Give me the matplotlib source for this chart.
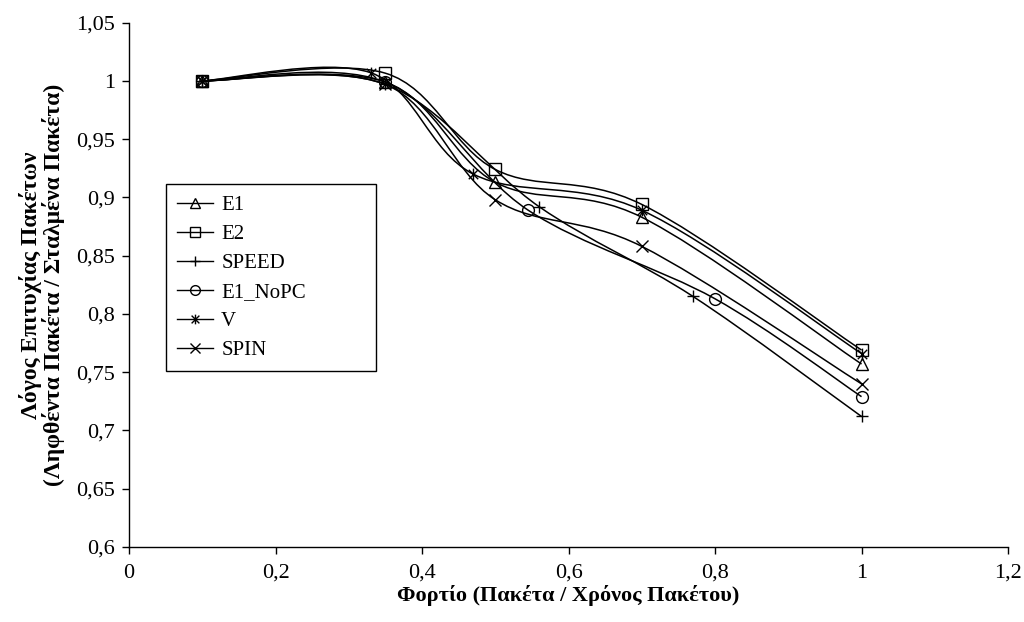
import matplotlib
matplotlib.use("Agg")
import matplotlib.pyplot as plt
from matplotlib.path import Path
from matplotlib.patches import PathPatch
from matplotlib.lines import Line2D
import numpy as np

plt.rcParams['font.family'] = ['Liberation Serif', 'DejaVu Serif']

# ---- data ----
series_names = ["E1", "E2", "SPEED", "E1_NoPC", "V", "SPIN"]
e1_x = [0.10, 0.35, 0.50, 0.70, 1.00]
e1_y = [1.000, 0.999, 0.913, 0.883, 0.757]
e2_x = [0.10, 0.35, 0.50, 0.70, 1.00]
e2_y = [1.000, 1.0066, 0.924, 0.894, 0.769]
speed_x = [0.10, 0.35, 0.56, 0.77, 1.00]
speed_y = [1.000, 0.997, 0.892, 0.815, 0.712]
nopc_x = [0.10, 0.35, 0.545, 0.80, 1.00]
nopc_y = [1.000, 0.999, 0.889, 0.813, 0.729]
v_x = [0.10, 0.33, 0.47, 0.70, 1.00]
v_y = [1.000, 1.007, 0.920, 0.889, 0.766]
spin_x = [0.10, 0.35, 0.50, 0.70, 1.00]
spin_y = [1.000, 0.997, 0.898, 0.858, 0.740]

x_ticks = [0, 0.2, 0.4, 0.6, 0.8, 1.0, 1.2]
x_tick_labels = ["0", "0,2", "0,4", "0,6", "0,8", "1", "1,2"]
y_ticks = [0.6, 0.65, 0.7, 0.75, 0.8, 0.85, 0.9, 0.95, 1.0, 1.05]
y_tick_labels = ["0,6", "0,65", "0,7", "0,75", "0,8", "0,85", "0,9", "0,95", "1", "1,05"]

x_label = "Φορτίο (Πακέτα / Χρόνος Πακέτου)"
y_label = "Λόγος Επιτυχίας Πακέτων\n(Ληφθέντα Πακέτα / Σταλμένα Πακέτα)"

# asterisk marker (vertical bar + X) like the spreadsheet "star"
star = Path([(-1, -1), (1, 1), (-1, 1), (1, -1), (0, -1.25), (0, 1.25)],
            [Path.MOVETO, Path.LINETO, Path.MOVETO, Path.LINETO, Path.MOVETO, Path.LINETO])

markers = ['^', 's', '+', 'o', star, 'x']
series = [(e1_x, e1_y), (e2_x, e2_y), (speed_x, speed_y),
          (nopc_x, nopc_y), (v_x, v_y), (spin_x, spin_y)]


def smooth_path(xs, ys):
    """Spreadsheet-style smoothed line: cubic Bezier through the points."""
    p = np.column_stack([xs, ys]).astype(float)
    n = len(p)
    verts = [p[0]]
    codes = [Path.MOVETO]
    for i in range(n - 1):
        p0 = p[i - 1] if i > 0 else p[i]
        p1 = p[i]
        p2 = p[i + 1]
        p3 = p[i + 2] if i + 2 < n else p[i + 1]
        c1 = p1 + (p2 - p0) / 6.0
        c2 = p2 - (p3 - p1) / 6.0
        verts += [c1, c2, p2]
        codes += [Path.CURVE4] * 3
    return Path(verts, codes)


fig = plt.figure(figsize=(10.24, 6.22), dpi=100)
ax = fig.add_axes([0.126, 0.1206, 0.8584, 0.843])

for (xs, ys), mk, name in zip(series, markers, series_names):
    ax.add_patch(PathPatch(smooth_path(xs, ys), facecolor='none',
                           edgecolor='black', lw=1.1, zorder=2))
    ax.plot(xs, ys, linestyle='none', marker=mk, markersize=8.5,
            markerfacecolor='none', markeredgecolor='black',
            markeredgewidth=1.0, zorder=3)

ax.set_xlim(0, 1.2)
ax.set_ylim(0.6, 1.05)
ax.set_xticks(x_ticks)
ax.set_xticklabels(x_tick_labels)
ax.set_yticks(y_ticks)
ax.set_yticklabels(y_tick_labels)
ax.tick_params(axis='both', direction='out', length=5, width=1,
               labelsize=16, colors='black', pad=5)
ax.tick_params(axis='x', pad=7)
for s in ['top', 'right']:
    ax.spines[s].set_visible(False)
for s in ['left', 'bottom']:
    ax.spines[s].set_linewidth(1.0)
    ax.spines[s].set_color('black')

ax.set_xlabel(x_label, fontsize=16, fontweight='bold', labelpad=2)
ax.set_ylabel(y_label, fontsize=17, fontweight='bold', labelpad=8,
              linespacing=1.0)

handles = [Line2D([], [], color='black', lw=1.0, marker=mk, markersize=7,
                  markerfacecolor='none', markeredgecolor='black',
                  markeredgewidth=1.0) for mk in markers]
leg = ax.legend(handles, series_names, loc='upper left',
                bbox_to_anchor=(0.042, 0.0, 0.239, 0.692), mode='expand',
                fontsize=15, frameon=True, fancybox=False, framealpha=1,
                edgecolor='black', handlelength=1.7, handletextpad=0.4,
                labelspacing=0.45, borderpad=0.55, borderaxespad=0.0)
leg.get_frame().set_linewidth(1.0)

fig.savefig("out.png", dpi=100)
